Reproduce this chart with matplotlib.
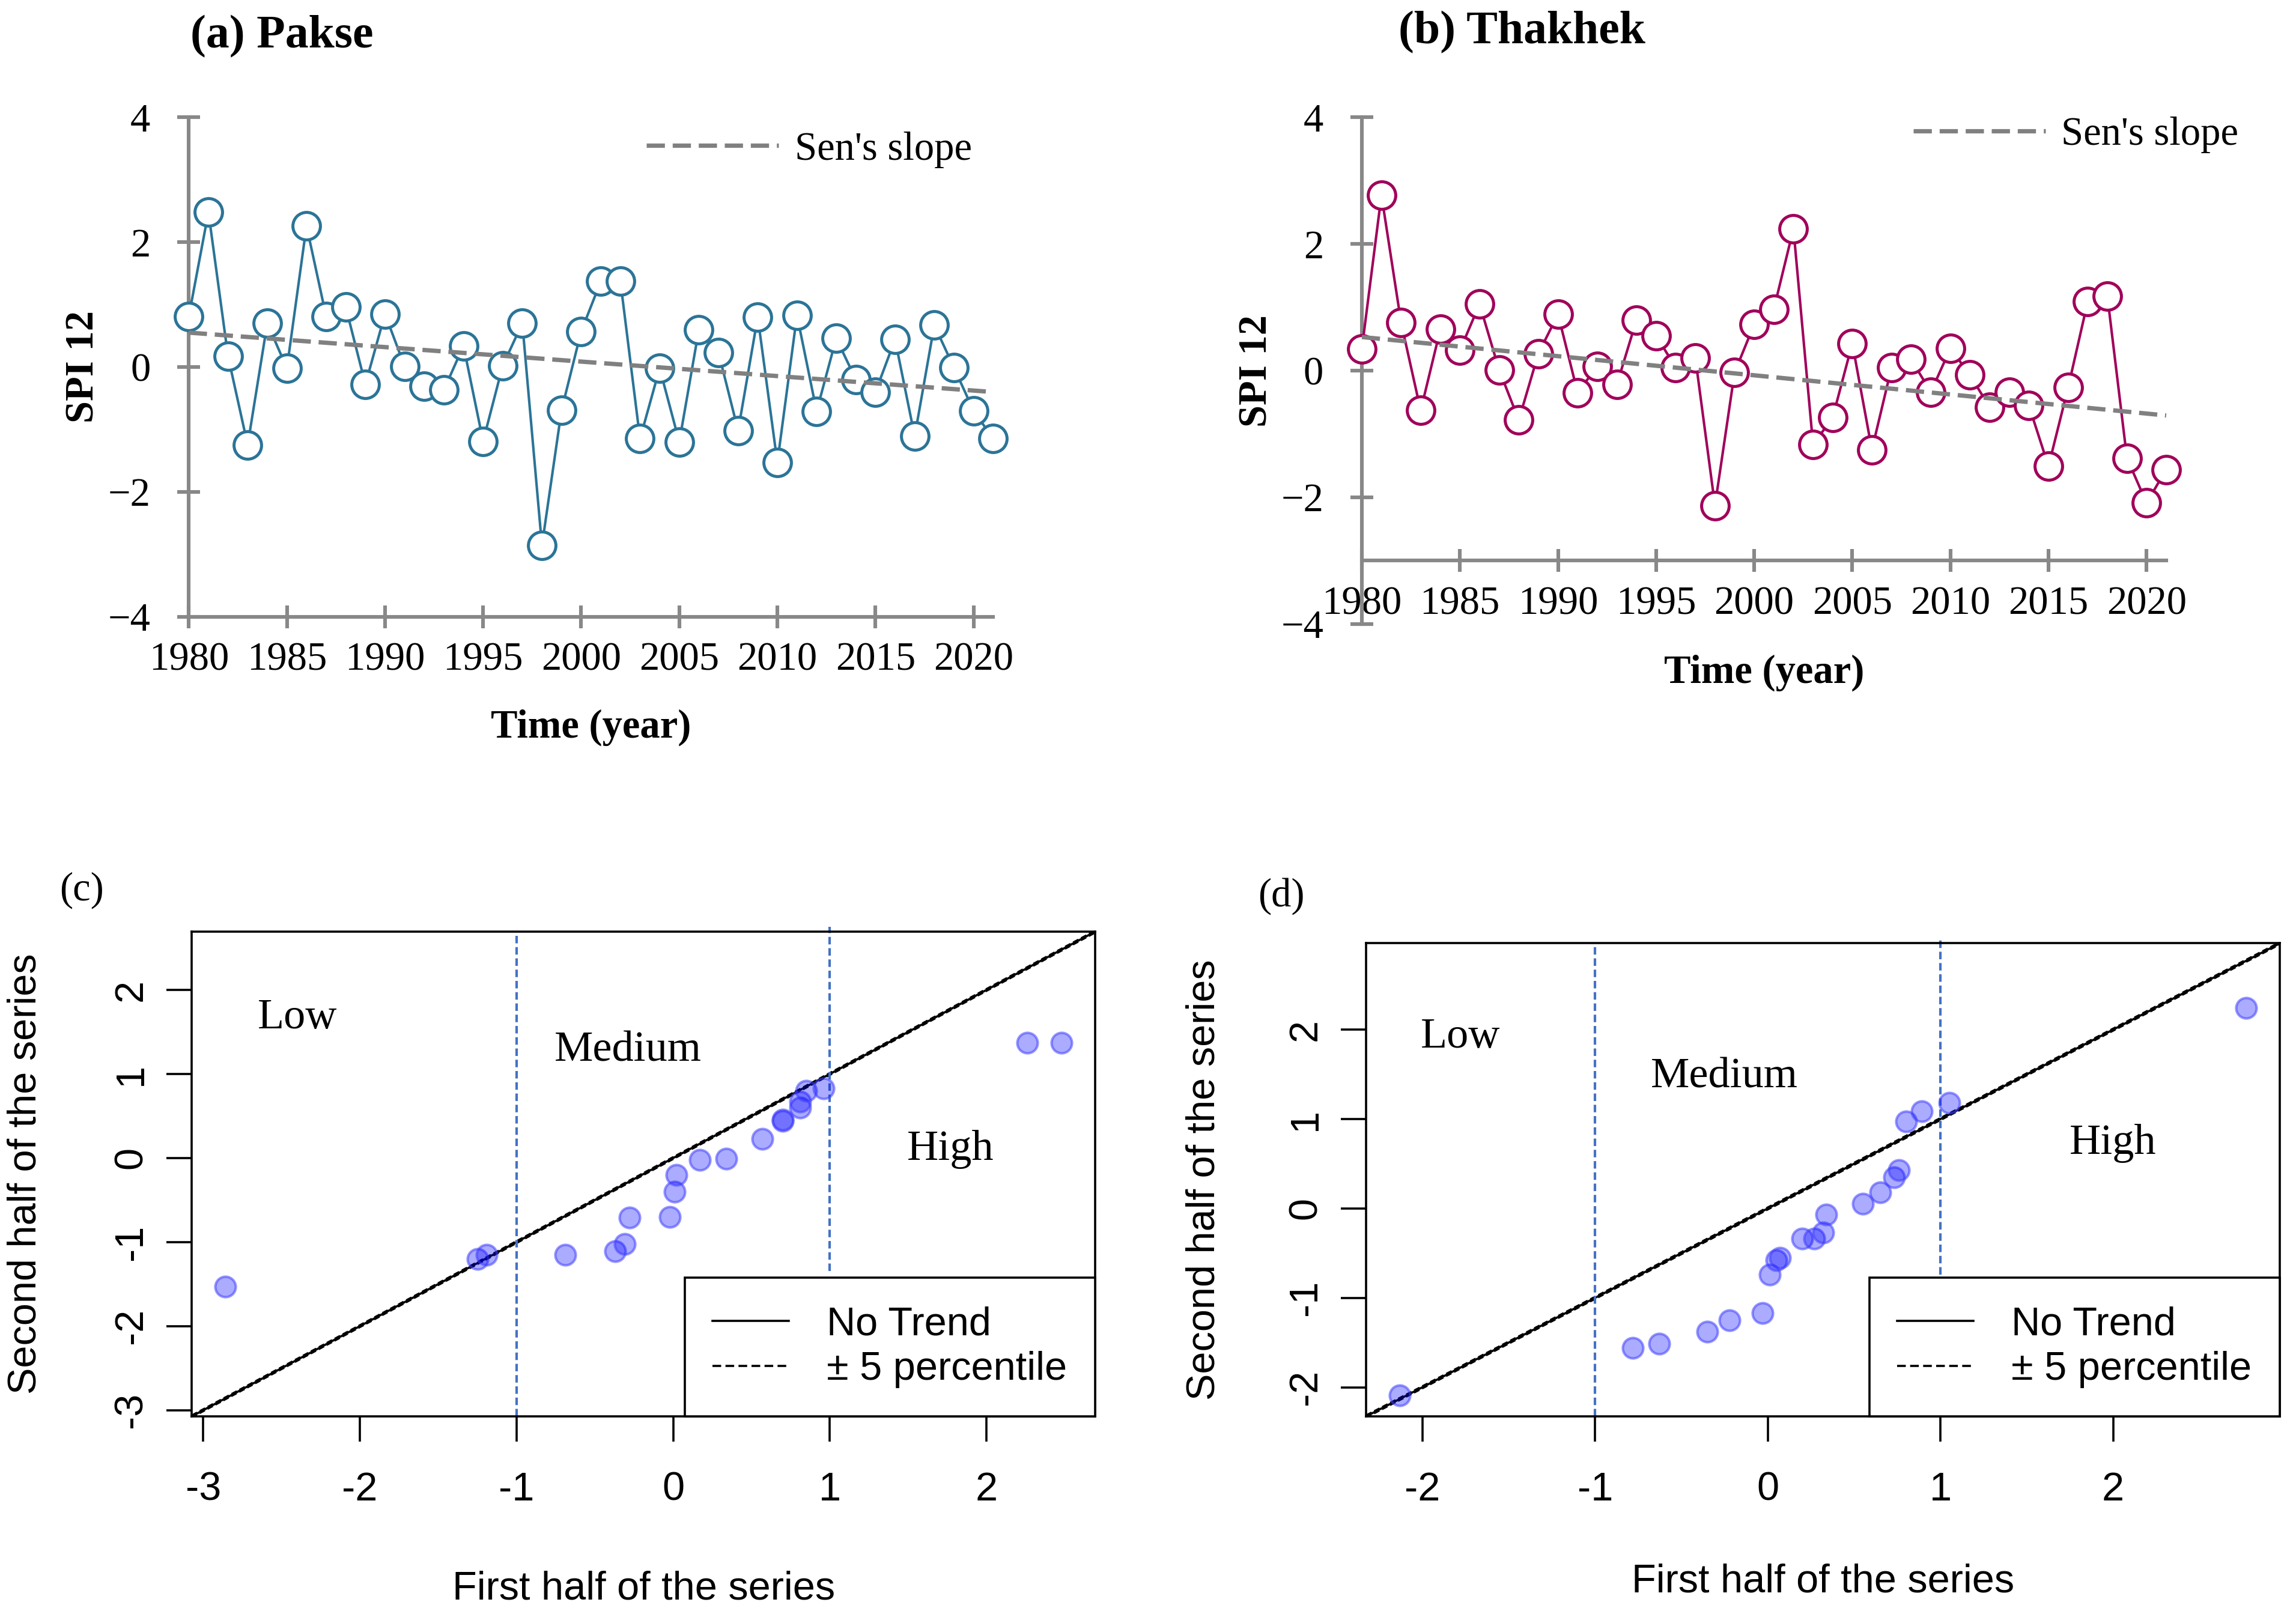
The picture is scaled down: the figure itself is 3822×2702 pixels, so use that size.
import numpy as np
import matplotlib.pyplot as plt
from matplotlib.lines import Line2D

plt.rcParams['font.family'] = 'Liberation Serif'

years = np.arange(1980, 2022)

# SPI 12 values
pakse_spi = [0.81, 2.48, 0.17, -1.25, 0.70, -0.02, 2.26, 0.81, 0.96, -0.28,
             0.85, 0.01, -0.31, -0.37, 0.34, -1.19, 0.02, 0.70, -2.86, -0.69,
             0.57, 1.37, 1.37, -1.15, -0.02, -1.20, 0.60, 0.23, -1.02, 0.80,
             -1.53, 0.83, -0.71, 0.46, -0.20, -0.40, 0.44, -1.11, 0.67, -0.01,
             -0.70, -1.15]
thakhek_spi = [0.34, 2.77, 0.76, -0.63, 0.65, 0.32, 1.05, 0.01, -0.78, 0.27,
               0.89, -0.35, 0.07, -0.22, 0.80, 0.55, 0.05, 0.20, -2.13, -0.03,
               0.73, 0.97, 2.24, -1.17, -0.74, 0.43, -1.25, 0.05, 0.18, -0.34,
               0.35, -0.07, -0.58, -0.34, -0.55, -1.51, -0.27, 1.09, 1.18, -1.38,
               -2.09, -1.56]

# Sen's slope: value at 1980 and slope per year
pakse_sen = [0.55, -0.0232]
thakhek_sen = [0.53, -0.0302]

year_ticks = [1980, 1985, 1990, 1995, 2000, 2005, 2010, 2015, 2020]
spi_ticks = [-4, -2, 0, 2, 4]

ita_ticks = [-3, -2, -1, 0, 1, 2]
ita_ticklabels = ['-3', '-2', '-1', '0', '1', '2']

GREY = '#888888'

fig = plt.figure(figsize=(19.11, 13.51), dpi=200)


def spi_panel(rect, spi, color, sen, title, title_xy, xaxis_at, leg_anchor, xlab_y):
    ax = fig.add_axes(rect)
    ax.plot(years, spi, color=color, lw=1.5, marker='o', ms=16.5, mfc='white',
            mec=color, mew=1.8, clip_on=False, zorder=3)
    trend = sen[0] + sen[1] * (years - years[0])
    ax.plot(years, trend, color='#808080', lw=2.6, ls=(0, (4.2, 1.8)),
            label="Sen's slope", zorder=4, clip_on=False)
    ax.set_xticks(year_ticks)
    ax.set_yticks(spi_ticks)
    ax.set_xlim(1979.2, 2021.8)
    ax.set_ylim(-4, 4)
    for s in ['top', 'right']:
        ax.spines[s].set_visible(False)
    ax.spines['left'].set_position(('data', 1980))
    ax.spines['bottom'].set_position(('data', xaxis_at))
    ax.spines['left'].set_bounds(-4, 4)
    ax.spines['bottom'].set_bounds(1980, 2021)
    for s in ['left', 'bottom']:
        ax.spines[s].set_color(GREY)
        ax.spines[s].set_linewidth(2.2)
    ax.tick_params(direction='inout', length=14, width=2.2, color=GREY,
                   labelsize=24)
    ax.tick_params(axis='y', pad=16)
    ax.tick_params(axis='x', pad=8)
    ax.set_xlabel('Time (year)', fontsize=24, fontweight='bold')
    ax.set_ylabel('SPI 12', fontsize=24, fontweight='bold')
    ax.xaxis.set_label_coords(0.5, xlab_y)
    ax.yaxis.set_label_coords(-0.085, 0.5)
    ax.legend(loc='center right', bbox_to_anchor=leg_anchor, frameon=False,
              fontsize=24, handlelength=3.3, handletextpad=0.4,
              borderaxespad=0)
    fig.text(title_xy[0], title_xy[1], title, fontsize=28, fontweight='bold',
             va='center', ha='left')
    return ax


def ita_panel(rect, spi, zone_xy, tag, tag_xy, ylab_x, xlab_y):
    ax = fig.add_axes(rect)
    n = len(spi) // 2
    first = np.sort(spi[:n])
    second = np.sort(spi[n:])
    lo = min(first.min(), second.min())
    hi = max(first.max(), second.max())
    ext = 0.04 * (hi - lo)
    lim = np.array([lo - ext, hi + ext])
    ax.plot(lim, lim, color='black', lw=1.3, zorder=2)
    for off in (-0.015, 0.015):
        ax.plot(lim, lim + off, color='black', lw=0.9, ls=(0, (4, 2)), zorder=2)
    ax.scatter(first, second, s=150, facecolor=(0, 0, 1, 0.33),
               edgecolor=(0.25, 0.25, 1, 0.55), lw=1.5, zorder=3)
    trans = ax.get_xaxis_transform()
    ax.plot([-1, -1], [0.0, 1.0], color='#4472C4', lw=1.5, ls=(0, (3, 1.5)),
            transform=trans, clip_on=False, zorder=2)
    ax.plot([1, 1], [0.3, 1.01], color='#4472C4', lw=1.5, ls=(0, (3, 1.5)),
            transform=trans, clip_on=False, zorder=2)
    for name, (x, y) in zip(['Low', 'Medium', 'High'], zone_xy):
        ax.text(x, y, name, fontsize=26, ha='center', va='center')
    # only ticks inside the data range, as R does
    keep = [i for i, t in enumerate(ita_ticks) if lim[0] <= t <= lim[1]]
    ticks = [ita_ticks[i] for i in keep]
    labels = [ita_ticklabels[i] for i in keep]
    ax.set_xticks(ticks)
    ax.set_xticklabels(labels)
    ax.set_yticks(ticks)
    ax.set_yticklabels(labels, rotation=90, va='center')
    ax.set_xlim(lim)
    ax.set_ylim(lim)
    for lab in ax.get_xticklabels() + ax.get_yticklabels():
        lab.set_family('Liberation Sans')
    ax.tick_params(direction='out', length=15, width=1.3, labelsize=24)
    ax.tick_params(axis='x', pad=18)
    ax.tick_params(axis='y', pad=10)
    for s in ax.spines.values():
        s.set_linewidth(1.3)
    ax.set_xlabel('First half of the series', fontsize=24, family='Liberation Sans')
    ax.set_ylabel('Second half of the series', fontsize=24, family='Liberation Sans')
    ax.xaxis.set_label_coords(0.5, xlab_y)
    ax.yaxis.set_label_coords(ylab_x, 0.5)
    handles = [Line2D([], [], color='black', lw=1.3),
               Line2D([], [], color='black', lw=1.3, ls=(0, (4, 2)))]
    leg = ax.legend(handles, ['No Trend', '\u00b1 5 percentile'],
                    loc='lower right', bbox_to_anchor=(1, 0), borderaxespad=0,
                    frameon=True, fancybox=False, edgecolor='black',
                    framealpha=1, prop={'family': 'Liberation Sans', 'size': 24},
                    handlelength=1.9, handletextpad=0.95, borderpad=0.7,
                    labelspacing=0.2)
    leg.get_frame().set_linewidth(1.3)
    leg.set_zorder(5)
    fig.text(tag_xy[0], tag_xy[1], tag, fontsize=24, va='center', ha='left')
    return ax


spi_panel([0.0754, 0.6200, 0.3640, 0.3078], pakse_spi, '#2B7497', pakse_sen,
          '(a) Pakse', (0.0829, 0.9774), -4, (0.975, 0.935), -0.185)
spi_panel([0.5863, 0.6155, 0.3640, 0.3123], thakhek_spi, '#A0005A', thakhek_sen,
          '(b) Thakhek', (0.609, 0.980), -3, (1.087, 0.965), -0.06)

ita_panel([0.0835, 0.1273, 0.3935, 0.2987], pakse_spi,
          [(-2.4, 1.67), (-0.29, 1.28), (1.77, 0.10)], '(c)', (0.026, 0.4513),
          -0.163, -0.318)
ita_panel([0.5950, 0.1273, 0.3980, 0.2915], thakhek_spi,
          [(-1.78, 1.92), (-0.25, 1.47), (2.0, 0.73)], '(d)', (0.548, 0.4477),
          -0.157, -0.31)

fig.savefig('out.png', dpi=200, facecolor='white')
